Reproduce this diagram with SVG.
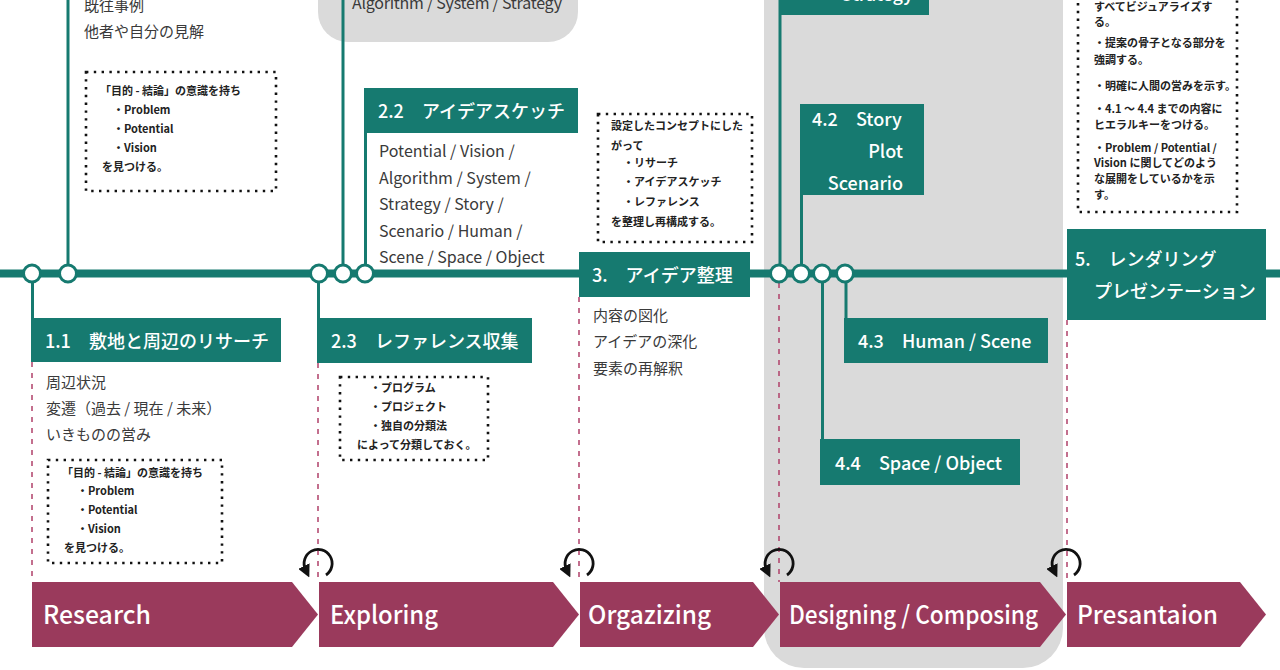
<svg xmlns="http://www.w3.org/2000/svg" width="1280" height="670" viewBox="0 0 1280 670">
<defs>
<style>
text{font-family:"Noto Sans CJK JP","Noto Sans",sans-serif}
.bg{fill:#dadada}
.tl{fill:none;stroke:#167a70;stroke-width:3}
.main{fill:none;stroke:#167a70;stroke-width:8}
.dash{fill:none;stroke:#b0406a;stroke-width:1.5;stroke-dasharray:5 6}
.node{fill:#fff;stroke:#167a70;stroke-width:3}
.box{fill:#167a70}
.dot{fill:none;stroke:#111;stroke-width:2.6;stroke-dasharray:2.4 5.4}
.t{fill:#fff;font-size:18px;font-weight:500}
.b{fill:#3a3a3a;font-size:15px}
.bl{fill:#3a3a3a;font-size:16px}
.s{fill:#222;font-size:11px;font-weight:700}
.ph{fill:#9a3a5c}
.pt{fill:#fff;font-size:25px;font-weight:500}
.cyc{fill:none;stroke:#111;stroke-width:2.8}
</style>
<marker id="ah" viewBox="0 0 10 10" refX="3" refY="5" markerWidth="4.5" markerHeight="4.5" orient="auto" markerUnits="strokeWidth">
<path d="M0,0 L10,5 L0,10 Z" fill="#111"/>
</marker>
</defs>
<rect width="1280" height="670" fill="#fff"/>

<g id="backgrounds">
<path class="bg" d="M318,-20 H578 V12 A30,30 0 0 1 548,42 H348 A30,30 0 0 1 318,12 Z"/>
<path class="bg" d="M764,-20 H1063 V628 A40,40 0 0 1 1023,668 H804 A40,40 0 0 1 764,628 Z"/>
</g>

<g id="connectors">
<line class="main" x1="0" y1="273.5" x2="1280" y2="273.5"/>
<line class="tl" x1="68" y1="0" x2="68" y2="266"/>
<line class="tl" x1="343" y1="0" x2="343" y2="266"/>
<line class="tl" x1="365.5" y1="88" x2="365.5" y2="266"/>
<line class="tl" x1="32.5" y1="281" x2="32.5" y2="320"/>
<line class="tl" x1="318.5" y1="281" x2="318.5" y2="320"/>
<line class="tl" x1="780" y1="0" x2="780" y2="266"/>
<line class="tl" x1="801.5" y1="104" x2="801.5" y2="266"/>
<line class="tl" x1="822.5" y1="281" x2="822.5" y2="441"/>
<line class="tl" x1="846" y1="281" x2="846" y2="320"/>
<line class="dash" x1="32" y1="362" x2="32" y2="582"/>
<line class="dash" x1="318" y1="363" x2="318" y2="582"/>
<line class="dash" x1="579" y1="297" x2="579" y2="582"/>
<line class="dash" x1="779" y1="283" x2="779" y2="582"/>
<line class="dash" x1="1067" y1="320" x2="1067" y2="582"/>
<circle class="node" cx="32" cy="273.5" r="8.5"/>
<circle class="node" cx="68" cy="273.5" r="8.5"/>
<circle class="node" cx="319" cy="273.5" r="8.5"/>
<circle class="node" cx="343" cy="273.5" r="8.5"/>
<circle class="node" cx="365" cy="273.5" r="8.5"/>
<circle class="node" cx="779" cy="273.5" r="8.5"/>
<circle class="node" cx="801" cy="273.5" r="8.5"/>
<circle class="node" cx="822" cy="273.5" r="8.5"/>
<circle class="node" cx="845" cy="273.5" r="8.5"/>
</g>

<g id="n1-2">
<text class="b" x="84" y="11">既往事例</text>
<text class="b" x="84" y="37">他者や自分の見解</text>
<rect class="dot" x="86" y="72" width="190" height="119"/>
<text class="s" x="100" y="95">「目的 - 結論」の意識を持ち</text>
<text class="s" x="113" y="114">・Problem</text>
<text class="s" x="113" y="133">・Potential</text>
<text class="s" x="113" y="152">・Vision</text>
<text class="s" x="102" y="171">を見つける。</text>
</g>

<g id="n1-1">
<rect class="box" x="31" y="318" width="250" height="44"/>
<text class="t" x="45" y="348">1.1　敷地と周辺のリサーチ</text>
<text class="b" x="46" y="388">周辺状況</text>
<text class="b" x="46" y="414">変遷（過去 / 現在 / 未来）</text>
<text class="b" x="46" y="440">いきものの営み</text>
<rect class="dot" x="48" y="460" width="174" height="103"/>
<text class="s" x="62" y="477">「目的 - 結論」の意識を持ち</text>
<text class="s" x="77" y="495">・Problem</text>
<text class="s" x="77" y="514">・Potential</text>
<text class="s" x="77" y="533">・Vision</text>
<text class="s" x="64" y="552">を見つける。</text>
</g>

<g id="n2-1">
<text class="bl" x="352" y="9" textLength="210" lengthAdjust="spacing">Algorithm / System / Strategy</text>
</g>

<g id="n2-2">
<rect class="box" x="364" y="88" width="214" height="45"/>
<text class="t" x="378" y="118">2.2　アイデアスケッチ</text>
<text class="bl" x="379" y="157">Potential / Vision /</text>
<text class="bl" x="379" y="184">Algorithm / System /</text>
<text class="bl" x="379" y="210">Strategy / Story /</text>
<text class="bl" x="379" y="237">Scenario / Human /</text>
<text class="bl" x="379" y="263">Scene / Space / Object</text>
</g>

<g id="n2-3">
<rect class="box" x="317" y="318" width="215" height="45"/>
<text class="t" x="331" y="348">2.3　レファレンス収集</text>
<rect class="dot" x="340" y="377" width="148" height="83"/>
<text class="s" x="370" y="392">・プログラム</text>
<text class="s" x="370" y="411">・プロジェクト</text>
<text class="s" x="370" y="430">・独自の分類法</text>
<text class="s" x="357" y="449">によって分類しておく。</text>
</g>

<g id="n3">
<rect class="dot" x="598" y="114" width="154" height="128"/>
<text class="s" x="611" y="130">設定したコンセプトにした</text>
<text class="s" x="611" y="150">がって</text>
<text class="s" x="623" y="167">・リサーチ</text>
<text class="s" x="623" y="186">・アイデアスケッチ</text>
<text class="s" x="623" y="206">・レファレンス</text>
<text class="s" x="611" y="226">を整理し再構成する。</text>
<rect class="box" x="579" y="252" width="171" height="45"/>
<text class="t" x="592" y="282">3.　アイデア整理</text>
<text class="b" x="593" y="321">内容の図化</text>
<text class="b" x="593" y="347">アイデアの深化</text>
<text class="b" x="593" y="374">要素の再解釈</text>
</g>

<g id="n4-1">
<rect class="box" x="779" y="-30" width="150" height="45"/>
<text class="t" x="913" y="1" text-anchor="end">Strategy</text>
</g>

<g id="n4-2">
<rect class="box" x="800" y="104" width="124" height="91"/>
<text class="t" x="812" y="126">4.2　Story</text>
<text class="t" x="903" y="158" text-anchor="end">Plot</text>
<text class="t" x="903" y="190" text-anchor="end">Scenario</text>
</g>

<g id="n4-3">
<rect class="box" x="844" y="318" width="204" height="45"/>
<text class="t" x="858" y="348">4.3　Human / Scene</text>
</g>

<g id="n4-4">
<rect class="box" x="820" y="439" width="200" height="46"/>
<text class="t" x="835" y="470">4.4　Space / Object</text>
</g>

<g id="n5">
<rect class="dot" x="1078" y="-20" width="159" height="232"/>
<text class="s" x="1094" y="11">すべてビジュアライズす</text>
<text class="s" x="1094" y="26">る。</text>
<text class="s" x="1094" y="47">・提案の骨子となる部分を</text>
<text class="s" x="1094" y="64">強調する。</text>
<text class="s" x="1094" y="90">・明確に人間の営みを示す。</text>
<text class="s" x="1094" y="113">・4.1 ～ 4.4 までの内容に</text>
<text class="s" x="1094" y="129">ヒエラルキーをつける。</text>
<text class="s" x="1094" y="152">・Problem / Potential /</text>
<text class="s" x="1094" y="167">Vision に関してどのよう</text>
<text class="s" x="1094" y="183">な展開をしているかを示</text>
<text class="s" x="1094" y="199">す。</text>
<rect class="box" x="1067" y="229" width="199" height="91"/>
<text class="t" x="1075" y="266">5.　レンダリング</text>
<text class="t" x="1094" y="298">プレゼンテーション</text>
</g>

<g id="phases">
<g id="p-research">
<path class="ph" d="M32,582 H292 L318,614.5 L292,647 H32 Z"/>
<text class="pt" x="43" y="624" textLength="108" lengthAdjust="spacingAndGlyphs">Research</text>
</g>
<g id="p-exploring">
<path class="ph" d="M319,582 H553 L579,614.5 L553,647 H319 Z"/>
<text class="pt" x="330" y="624" textLength="108" lengthAdjust="spacingAndGlyphs">Exploring</text>
</g>
<g id="p-organizing">
<path class="ph" d="M580,582 H753 L779,614.5 L753,647 H580 Z"/>
<text class="pt" x="588" y="624" textLength="123" lengthAdjust="spacingAndGlyphs">Orgazizing</text>
</g>
<g id="p-designing">
<path class="ph" d="M780,582 H1040 L1066,614.5 L1040,647 H780 Z"/>
<text class="pt" x="789" y="624" textLength="249" lengthAdjust="spacingAndGlyphs">Designing / Composing</text>
</g>
<g id="p-presentation">
<path class="ph" d="M1067,582 H1240 L1266,614.5 L1240,647 H1067 Z"/>
<text class="pt" x="1077" y="624" textLength="141" lengthAdjust="spacingAndGlyphs">Presantaion</text>
</g>
</g>

<g id="cycles">
<path class="cyc" marker-end="url(#ah)" d="M326,575 A14,14 0 1 0 305.5,569.5"/>
<path class="cyc" marker-end="url(#ah)" d="M587,575 A14,14 0 1 0 566.5,569.5"/>
<path class="cyc" marker-end="url(#ah)" d="M787,575 A14,14 0 1 0 766.5,569.5"/>
<path class="cyc" marker-end="url(#ah)" d="M1074,575 A14,14 0 1 0 1053.5,569.5"/>
</g>
</svg>
